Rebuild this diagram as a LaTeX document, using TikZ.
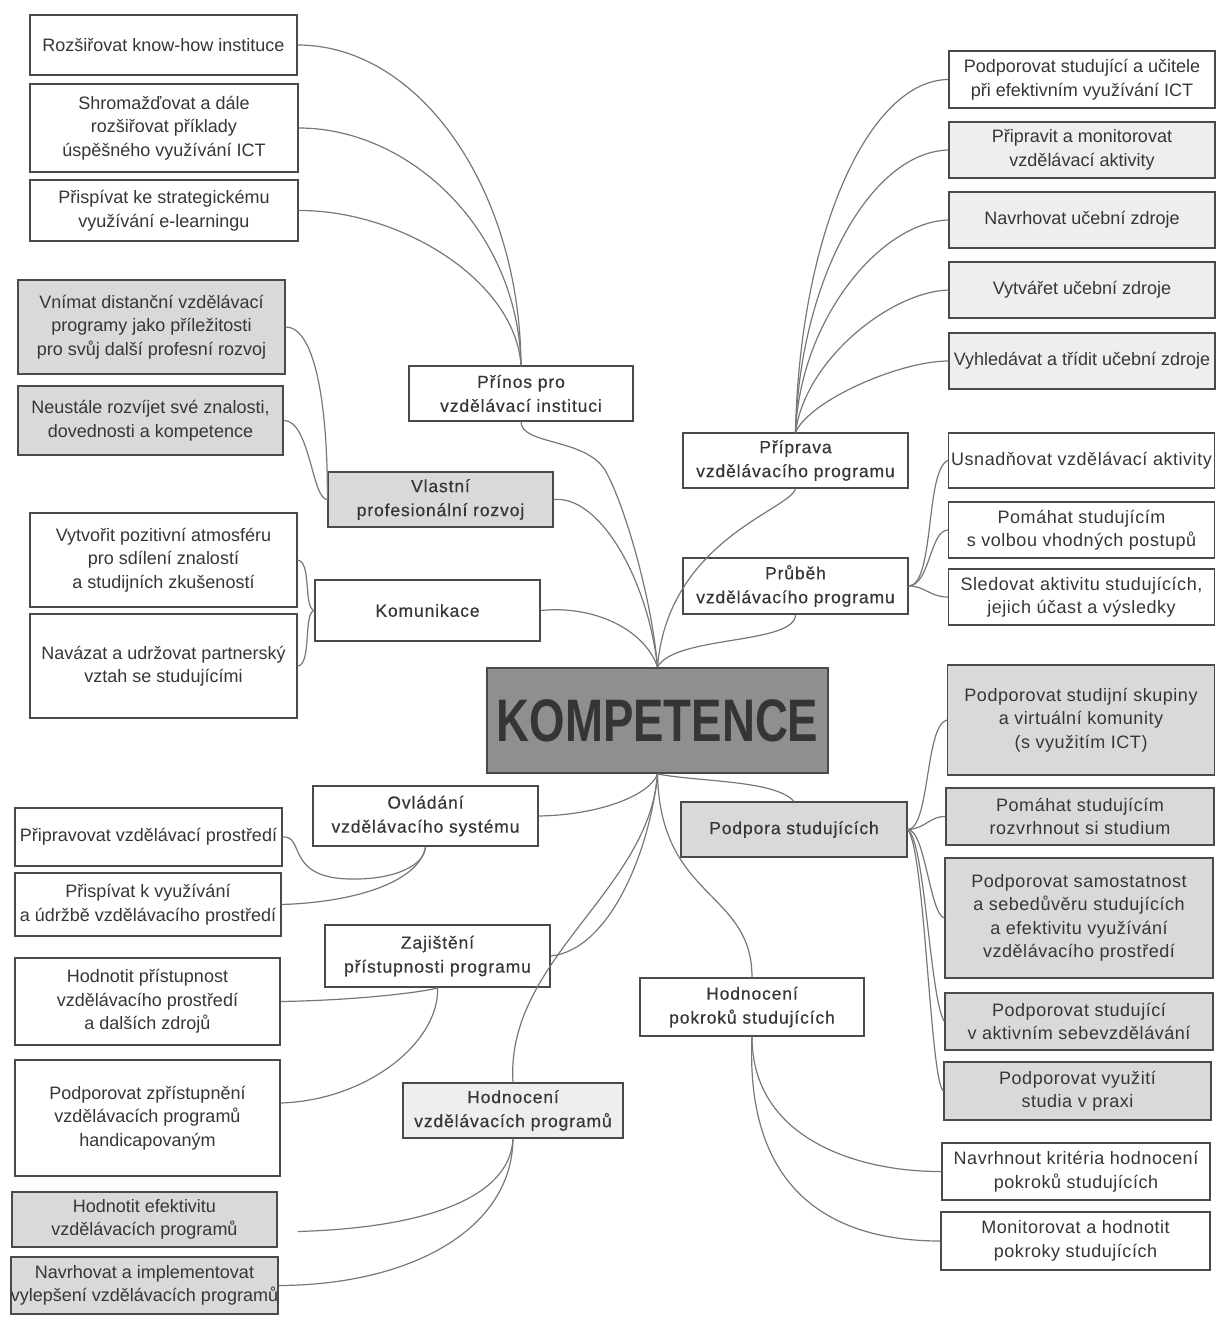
\documentclass[tikz,border=0pt]{standalone}
\usepackage{fontspec}
\setmainfont{Liberation Sans}
\newfontfamily\brfont[LetterSpace=5,FakeBold=0.4]{Liberation Sans}
\newfontfamily\wdfont[LetterSpace=3]{Liberation Sans}
\newfontfamily\bigfont[FakeStretch=0.76]{Liberation Sans}
\definecolor{bordc}{HTML}{4A4A4A}
\definecolor{linec}{HTML}{777777}
\definecolor{txtc}{HTML}{363636}
\definecolor{grayfill}{HTML}{D9D9D9}
\definecolor{lightfill}{HTML}{EEEEEE}
\definecolor{kfill}{HTML}{8F8F8F}
\definecolor{ktext}{HTML}{353535}
\tikzset{
  box/.style={draw=bordc, line width=1.3pt, fill=white, text=txtc, align=center, inner sep=0pt},
  leaf/.style={box, font=\fontsize{18}{23.5}\selectfont},
  leafw/.style={box, font=\wdfont\fontsize{18}{23.5}\selectfont},
  branch/.style={box, font=\brfont\fontsize{17.5}{24}\selectfont},
  gfill/.style={fill=grayfill},
  lfill/.style={fill=lightfill},
  core/.style={draw=bordc, line width=2pt, fill=kfill, text=ktext, inner sep=0pt,
    font=\bigfont\bfseries\fontsize{60}{60}\selectfont},
  conn/.style={draw=linec, line width=1.2pt}
}
\begin{document}
\begin{tikzpicture}[x=1pt,y=1pt]
\useasboundingbox (0,0) rectangle (1216,-1317);

% ---------- centre ----------
\node[core, minimum width=341pt, minimum height=105pt] (komp) at (657.5,-720.5) {KOMPETENCE};

% ---------- main branches ----------
\node[branch, minimum width=224pt, minimum height=55pt] (prinos) at (521,-393.5) {Přínos pro\\vzdělávací instituci};
\node[branch, gfill, minimum width=225pt, minimum height=55pt] (vlastni) at (440.5,-499.5) {Vlastní\\profesionální rozvoj};
\node[branch, minimum width=225pt, minimum height=61pt] (komun) at (427.5,-610.5) {Komunikace};
\node[branch, minimum width=225pt, minimum height=60pt] (ovl) at (425.5,-816) {Ovládání\\vzdělávacího systému};
\node[branch, minimum width=225pt, minimum height=62pt] (zaj) at (437.5,-956) {Zajištění\\přístupnosti programu};
\node[branch, lfill, minimum width=220pt, minimum height=55pt] (hvp) at (513,-1110.5) {Hodnocení\\vzdělávacích programů};
\node[branch, minimum width=225pt, minimum height=55pt] (priprava) at (795.5,-460.5) {Příprava\\vzdělávacího programu};
\node[branch, minimum width=225pt, minimum height=56pt] (prubeh) at (795.5,-586) {Průběh\\vzdělávacího programu};
\node[branch, gfill, minimum width=226pt, minimum height=55pt] (podpora) at (794,-829.5) {Podpora studujících};
\node[branch, minimum width=224pt, minimum height=58pt] (hps) at (752,-1007) {Hodnocení\\pokroků studujících};

% ---------- left leaves ----------
\node[leaf, minimum width=267pt, minimum height=60pt] (A1) at (163.5,-45) {Rozšiřovat know-how instituce};
\node[leaf, minimum width=268pt, minimum height=88pt] (A2) at (164,-128) {Shromažďovat a dále\\rozšiřovat příklady\\úspěšného využívání ICT};
\node[leaf, minimum width=268pt, minimum height=61pt] (A3) at (164,-210.5) {Přispívat ke strategickému\\využívání e-learningu};
\node[leaf, gfill, minimum width=267pt, minimum height=94pt] (B1) at (151.5,-327) {Vnímat distanční vzdělávací\\programy jako příležitosti\\pro svůj další profesní rozvoj};
\node[leaf, gfill, minimum width=265pt, minimum height=69pt] (B2) at (150.5,-420.5) {Neustále rozvíjet své znalosti,\\dovednosti a kompetence};
\node[leaf, minimum width=267pt, minimum height=94pt] (C1) at (163.5,-560) {Vytvořit pozitivní atmosféru\\pro sdílení znalostí\\a studijních zkušeností};
\node[leaf, minimum width=267pt, minimum height=104pt] (C2) at (163.5,-666) {Navázat a udržovat partnerský\\vztah se studujícími};
\node[leaf, minimum width=267pt, minimum height=58pt] (D1) at (148.5,-837) {Připravovat vzdělávací prostředí};
\node[leaf, minimum width=266pt, minimum height=63pt] (D2) at (148,-904.5) {Přispívat k využívání\\a údržbě vzdělávacího prostředí};
\node[leaf, minimum width=265pt, minimum height=87pt] (E1) at (147.5,-1001.5) {Hodnotit přístupnost\\vzdělávacího prostředí\\a dalších zdrojů};
\node[leaf, minimum width=265pt, minimum height=116pt] (E2) at (147.5,-1118) {Podporovat zpřístupnění\\vzdělávacích programů\\handicapovaným};
\node[leaf, gfill, minimum width=265pt, minimum height=55pt] (F1) at (144.5,-1219.5) {Hodnotit efektivitu\\vzdělávacích programů};
\node[leaf, gfill, minimum width=265pt, minimum height=57pt] (F2) at (144.5,-1285.5) {Navrhovat a implementovat\\vylepšení vzdělávacích programů};

% ---------- right leaves ----------
\node[leaf, minimum width=266pt, minimum height=57pt] (G1) at (1082,-79.5) {Podporovat studující a učitele\\při efektivním využívání ICT};
\node[leaf, lfill, minimum width=266pt, minimum height=56pt] (G2) at (1082,-150) {Připravit a monitorovat\\vzdělávací aktivity};
\node[leaf, lfill, minimum width=266pt, minimum height=56pt] (G3) at (1082,-220) {Navrhovat učební zdroje};
\node[leaf, lfill, minimum width=266pt, minimum height=56pt] (G4) at (1082,-290) {Vytvářet učební zdroje};
\node[leaf, lfill, minimum width=266pt, minimum height=56pt] (G5) at (1082,-361) {Vyhledávat a třídit učební zdroje};
\node[leafw, minimum width=266pt, minimum height=55pt] (H1) at (1081.5,-460.5) {Usnadňovat vzdělávací aktivity};
\node[leafw, minimum width=266pt, minimum height=56pt] (H2) at (1081.5,-530) {Pomáhat studujícím\\s volbou vhodných postupů};
\node[leafw, minimum width=266pt, minimum height=56pt] (H3) at (1081.5,-597) {Sledovat aktivitu studujících,\\jejich účast a výsledky};
\node[leafw, gfill, minimum width=267pt, minimum height=110pt] (I1) at (1081,-720) {Podporovat studijní skupiny\\a virtuální komunity\\(s využitím ICT)};
\node[leafw, gfill, minimum width=268pt, minimum height=57pt] (I2) at (1080,-816.5) {Pomáhat studujícím\\rozvrhnout si studium};
\node[leafw, gfill, minimum width=268pt, minimum height=120pt] (I3) at (1079,-918) {Podporovat samostatnost\\a sebedůvěru studujících\\a efektivitu využívání\\vzdělávacího prostředí};
\node[leafw, gfill, minimum width=268pt, minimum height=57pt] (I4) at (1079,-1021.5) {Podporovat studující\\v aktivním sebevzdělávání};
\node[leafw, gfill, minimum width=267pt, minimum height=58pt] (I5) at (1077.5,-1091) {Podporovat využití\\studia v praxi};
\node[leafw, minimum width=268pt, minimum height=57pt] (J1) at (1076,-1171.5) {Navrhnout kritéria hodnocení\\pokroků studujících};
\node[leafw, minimum width=269pt, minimum height=58pt] (J2) at (1075.5,-1241) {Monitorovat a hodnotit\\pokroky studujících};

% ---------- connectors: centre to branches ----------
\draw[conn] (prinos.south) .. controls (521,-445) and (585,-438) .. (605,-470) .. controls (625,-505) and (652,-600) .. (komp.north);
\draw[conn] (vlastni.east) .. controls (600,-495) and (648,-580) .. (komp.north);
\draw[conn] (komun.east) .. controls (595,-605) and (645,-630) .. (komp.north);
\draw[conn] (priprava.south) .. controls (790,-510) and (668,-540) .. (komp.north);
\draw[conn] (prubeh.south) .. controls (795,-645) and (675,-635) .. (komp.north);
\draw[conn] (ovl.east) .. controls (600,-815) and (650,-795) .. (komp.south);
\draw[conn] (zaj.east) .. controls (610,-950) and (650,-850) .. (komp.south);
\draw[conn] (hvp.north) .. controls (505,-960) and (650,-890) .. (komp.south);
\draw[conn] (komp.south) .. controls (700,-782) and (775,-780) .. (podpora.north);
\draw[conn] (komp.south) .. controls (660,-900) and (752,-890) .. (hps.north);

% ---------- connectors: branches to leaves ----------
\draw[conn] (A1.east) .. controls (420,-45) and (520,-190) .. (prinos.north);
\draw[conn] (A2.east) .. controls (410,-128) and (518,-230) .. (prinos.north);
\draw[conn] (A3.east) .. controls (400,-210) and (515,-280) .. (prinos.north);

\draw[conn] (B1.east) .. controls (318,-327) and (328,-420) .. (vlastni.west);
\draw[conn] (B2.east) .. controls (310,-420) and (312,-500) .. (vlastni.west);

\draw[conn] (C1.east) .. controls (312,-562) and (303,-608) .. (komun.west);
\draw[conn] (C2.east) .. controls (312,-665) and (303,-612) .. (komun.west);

\draw[conn] (D1.east) .. controls (305,-835) and (285,-878) .. (350,-879) .. controls (395,-880) and (425,-865) .. (ovl.south);
\draw[conn] (D2.east) .. controls (360,-902) and (420,-880) .. (ovl.south);

\draw[conn] (E1.east) .. controls (370,-1000) and (435,-990) .. (zaj.south);
\draw[conn] ([yshift=15pt]E2.east) .. controls (370,-1100) and (440,-1040) .. (zaj.south);

\draw[conn] ([xshift=20pt,yshift=-12pt]F1.east) .. controls (420,-1228) and (510,-1200) .. (hvp.south);
\draw[conn] (F2.east) .. controls (410,-1285) and (512,-1230) .. (hvp.south);

\draw[conn] (priprava.north) .. controls (800,-230) and (870,-80) .. (G1.west);
\draw[conn] (priprava.north) .. controls (800,-280) and (870,-152) .. (G2.west);
\draw[conn] (priprava.north) .. controls (800,-320) and (880,-222) .. (G3.west);
\draw[conn] (priprava.north) .. controls (805,-360) and (890,-292) .. (G4.west);
\draw[conn] (priprava.north) .. controls (810,-400) and (900,-361) .. (G5.west);

\draw[conn] (prubeh.east) .. controls (935,-585) and (925,-470) .. (H1.west);
\draw[conn] (prubeh.east) .. controls (930,-585) and (930,-530) .. (H2.west);
\draw[conn] (prubeh.east) .. controls (925,-586) and (930,-597) .. (H3.west);

\draw[conn] (podpora.east) .. controls (930,-829) and (925,-725) .. (I1.west);
\draw[conn] (podpora.east) .. controls (925,-829) and (930,-816) .. (I2.west);
\draw[conn] (podpora.east) .. controls (925,-829) and (930,-915) .. (I3.west);
\draw[conn] (podpora.east) .. controls (925,-840) and (930,-1000) .. (I4.west);
\draw[conn] (podpora.east) .. controls (925,-850) and (930,-1080) .. (I5.west);

\draw[conn] (hps.south) .. controls (752,-1140) and (860,-1172) .. (J1.west);
\draw[conn] (hps.south) .. controls (745,-1190) and (830,-1241) .. (J2.west);
\end{tikzpicture}
\end{document}
